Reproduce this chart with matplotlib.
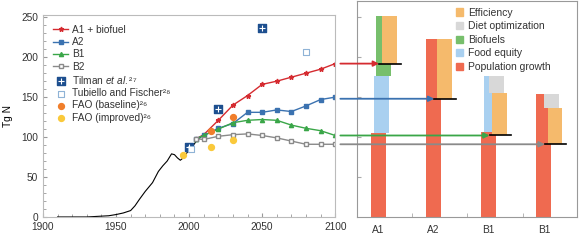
import matplotlib.pyplot as plt
from matplotlib.patches import Patch
from matplotlib.ticker import MultipleLocator

plt.rcParams['font.family'] = ['Liberation Sans', 'DejaVu Sans']
plt.rcParams['font.size'] = 7.3
plt.rcParams['mathtext.fontset'] = 'custom'
plt.rcParams['mathtext.rm'] = 'Liberation Sans'
plt.rcParams['mathtext.it'] = 'Liberation Sans:italic'
plt.rcParams['text.color'] = '#333333'

# historical fertilizer N use
hist_years = [1910, 1920, 1930, 1935, 1940, 1945, 1950, 1955, 1960, 1963, 1966, 1970,
              1975, 1979, 1982, 1985, 1988, 1990, 1992, 1994, 1996, 1998, 2000, 2003,
              2005, 2008]
hist_vals = [0, 0, 0, 0.5, 1, 1.5, 3, 5, 8, 14, 22, 32,
             43, 57, 64, 70, 79, 78, 74, 71, 74, 79, 84, 90,
             95, 100]

# scenarios
scen_years = [2005, 2010, 2020, 2030, 2040, 2050, 2060, 2070, 2080, 2090, 2100]
a1 = [98, 103, 121, 140, 152, 166, 170, 175, 180, 185, 192]
a2 = [98, 102, 111, 117, 131, 131, 134, 132, 139, 147, 150]
b1 = [98, 102, 110, 118, 121, 122, 121, 115, 111, 108, 102]
b2 = [98, 97, 101, 103, 104, 102, 99, 95, 91, 91, 91]

# other estimates
tilman_years = [2000, 2020, 2050]
tilman_vals = [87, 135, 236]
tubiello_years = [2001, 2080]
tubiello_vals = [85, 206]
fao_base_years = [2015, 2030]
fao_base_vals = [108, 125]
fao_imp_years = [1996, 2015, 2030]
fao_imp_vals = [78, 88, 96]

# right panel: contributions (Tg N) per scenario
bar_labels = ['A1', 'A2', 'B1', 'B1']
pop_growth = [105, 223, 106, 154]
food_equity = [71, 0, 70, 0]
biofuels = [75, 0, 0, 0]
diet = [0, 0, -21, -18]
efficiency = [-59, -75, -53, -45]

c_red, c_blue, c_green, c_gray = '#d52b30', '#3b72b0', '#3aa648', '#8a8a8a'

fig = plt.figure(figsize=(5.8, 2.4), dpi=100)
ax1 = fig.add_axes([0.074, 0.096, 0.504, 0.842])
ax2 = fig.add_axes([0.6155, 0.096, 0.379, 0.842 * 270 / 253])

# ---- left panel
ax1.plot(hist_years, hist_vals, color='k', lw=0.8)
ax1.plot(scen_years, a1, color=c_red, lw=1, marker='*', ms=3.5, label='A1 + biofuel')
ax1.plot(scen_years, a2, color=c_blue, lw=1, marker='s', ms=2.5, label='A2')
ax1.plot(scen_years, b1, color=c_green, lw=1, marker='^', ms=3, label='B1')
ax1.plot(scen_years, b2, color=c_gray, lw=1, marker='s', ms=3.5, mfc='white', label='B2')
t1 = ax1.scatter(tilman_years, tilman_vals, marker='s', s=26, color='#1d4f8f', zorder=4)
t2 = ax1.scatter(tilman_years, tilman_vals, marker='+', s=16, color='white', lw=0.8, zorder=5)
tb = ax1.scatter(tubiello_years, tubiello_vals, marker='s', s=14, facecolor='white',
                 edgecolor='#8fb3d6', lw=0.8, zorder=4)
fb = ax1.scatter(fao_base_years, fao_base_vals, s=18, color='#f07e2b', zorder=4)
fi = ax1.scatter(fao_imp_years, fao_imp_vals, s=18, color='#fac93b', zorder=4)

ax1.set_xlim(1900, 2100)
ax1.set_ylim(0, 253)
ax1.xaxis.set_major_locator(MultipleLocator(50))
ax1.xaxis.set_minor_locator(MultipleLocator(10))
ax1.yaxis.set_major_locator(MultipleLocator(50))
ax1.yaxis.set_minor_locator(MultipleLocator(10))
ax1.tick_params(which='both', direction='in', color='#999999', labelcolor='#333333')
ax1.tick_params(which='major', length=3)
ax1.tick_params(which='minor', length=2)
for s in ax1.spines.values():
    s.set_color('#bbbbbb')
    s.set_linewidth(0.8)
ax1.set_ylabel('Tg N', labelpad=6)

h, l = ax1.get_legend_handles_labels()
h += [(t1, t2), tb, fb, fi]
l += ['Tilman $\\mathit{et\\ al.}$\u00b2\u2077', 'Tubiello and Fischer\u00b2\u2078',
      'FAO (baseline)\u00b2\u2076', 'FAO (improved)\u00b2\u2076']
ax1.legend(h, l, loc='upper left', frameon=False, handlelength=1.5, handletextpad=0.4,
           labelspacing=0.22, borderaxespad=0.6, fontsize=7.3)

# ---- right panel
comps = [pop_growth, food_equity, biofuels, diet, efficiency]
comp_colors = ['#ef6a50', '#a9d0f0', '#77bf6c', '#d8d8d8', '#f5ba6c']
comp_offsets = [0, 0.055, 0.096, 0.136, 0.2]
w = 0.27
targets = []
for i in range(len(bar_labels)):
    level = 0
    for vals, col, off in zip(comps, comp_colors, comp_offsets):
        d = vals[i]
        if d == 0:
            continue
        bottom = level if d > 0 else level + d
        ax2.bar(i + off, abs(d), bottom=bottom, width=w, align='edge', color=col, lw=0)
        level += d
    targets.append(level)
    x0 = i + comp_offsets[-1]
    ax2.plot([x0 - 0.05, x0 + w + 0.07], [level, level], color='k', lw=1.2, zorder=4)

arrow_colors = [c_red, c_blue, c_green, c_gray]
for i, (v, col) in enumerate(zip(targets, arrow_colors)):
    ax2.annotate('', xy=(i + comp_offsets[-1] - 0.05, v), xycoords='data',
                 xytext=(2103.5, v), textcoords=ax1.transData,
                 arrowprops=dict(arrowstyle='-|>', color=col, lw=1.3,
                                 mutation_scale=8, shrinkA=0, shrinkB=0),
                 annotation_clip=False, zorder=5)

ax2.set_xlim(-0.248, 3.73)
ax2.set_ylim(0, 270)
ax2.set_xticks([i + w / 2 for i in range(len(bar_labels))])
ax2.set_xticklabels(bar_labels)
ax2.set_xticks([i + 0.75 for i in range(3)], minor=True)
ax2.set_yticks([50, 100, 150, 200, 250])
ax2.set_yticklabels([])
ax2.tick_params(axis='x', which='major', length=0, pad=6, labelcolor='#333333')
ax2.tick_params(which='both', direction='in', color='#aaaaaa')
ax2.tick_params(axis='x', which='minor', length=3)
ax2.tick_params(axis='y', length=3)
for s in ax2.spines.values():
    s.set_color('#999999')
    s.set_linewidth(0.8)

leg_names = ['Efficiency', 'Diet optimization', 'Biofuels', 'Food equity', 'Population growth']
leg_cols = ['#f5ba6c', '#d8d8d8', '#77bf6c', '#a9d0f0', '#ef6a50']
ax2.legend([Patch(color=c) for c in leg_cols], leg_names, loc='upper left',
           bbox_to_anchor=(0.42, 1.0), frameon=False, handlelength=0.7, handleheight=0.7,
           handletextpad=0.5, labelspacing=0.35, borderaxespad=0.2, fontsize=7.5)

fig.savefig('out.png', dpi=100)
